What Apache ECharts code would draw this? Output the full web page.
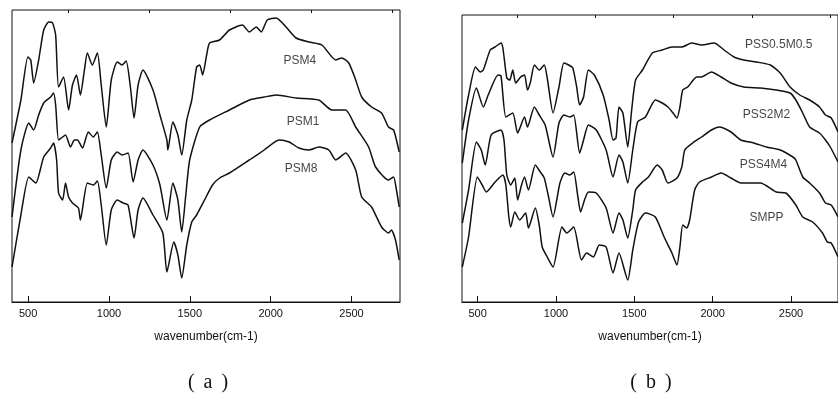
<!DOCTYPE html>
<html>
<head>
<meta charset="utf-8">
<script src="https://cdn.jsdelivr.net/npm/echarts@6/dist/echarts.min.js"></script>
<style>
  html, body { margin: 0; padding: 0; background: #fff; }
  #chart { width: 838px; height: 408px; }
</style>
</head>
<body>
<div id="chart"></div>
<script>
// wavenumber axis
const xMin = 400, xMax = 2800;
const majorTicks = [500, 1000, 1500, 2000, 2500];
const minorTicks = [750, 1250, 1750, 2250, 2750];
const axisTitle = 'wavenumber(cm-1)';

// panel (a) spectra, [wavenumber, intensity (arb.)]
const psm4 = [[400,159],[455,202],[498,245],[516,242],[534,219],[565,242],[596,272],[627,280],[651,279],[670,267],[688,215],[719,225],[750,192],[774,217],[799,227],[823,207],[848,232],[866,249],[897,237],[928,249],[952,217],[983,175],[1014,222],[1051,240],[1081,237],[1106,241],[1131,217],[1155,184],[1180,217],[1210,232],[1272,212],[1315,187],[1358,162],[1364,152],[1395,180],[1426,167],[1450,147],[1481,182],[1512,202],[1542,235],[1561,237],[1579,227],[1604,247],[1622,259],[1684,262],[1745,272],[1825,277],[1868,270],[1911,275],[1942,270],[1979,282],[2034,284],[2095,275],[2157,264],[2237,260],[2317,257],[2402,242],[2439,244],[2483,239],[2526,222],[2563,205],[2624,195],[2686,189],[2729,175],[2760,172],[2778,162],[2795,150]];
const psm1 = [[400,85],[455,152],[504,179],[534,172],[565,187],[596,199],[639,205],[657,209],[670,197],[688,162],[713,165],[731,167],[762,155],[786,162],[805,162],[836,154],[872,170],[903,165],[928,170],[952,147],[983,114],[1014,142],[1051,150],[1081,147],[1118,149],[1149,120],[1180,142],[1210,152],[1272,137],[1315,117],[1358,82],[1395,119],[1426,102],[1450,70],[1475,107],[1499,142],[1561,175],[1622,182],[1745,192],[1868,202],[1960,205],[2034,207],[2157,204],[2298,202],[2378,192],[2464,192],[2526,175],[2606,155],[2649,135],[2729,122],[2760,125],[2778,112],[2795,95]];
const psm8 = [[400,35],[455,87],[504,125],[547,119],[596,145],[639,154],[657,159],[676,142],[688,109],[713,102],[731,119],[750,105],[774,99],[811,94],[823,82],[866,119],[903,117],[928,121],[952,97],[983,57],[1014,92],[1051,102],[1088,99],[1118,97],[1155,64],[1180,92],[1210,104],[1272,87],[1333,69],[1358,30],[1401,60],[1426,47],[1450,24],[1481,57],[1512,80],[1542,87],[1591,102],[1640,117],[1684,124],[1745,129],[1868,142],[1960,152],[2052,162],[2114,160],[2175,154],[2237,152],[2298,155],[2360,152],[2402,142],[2464,149],[2526,132],[2563,105],[2624,95],[2686,75],[2729,69],[2747,72],[2772,62],[2795,42]];

// panel (b) spectra
const pss05 = [[402,172],[442,207],[486,235],[517,230],[536,232],[580,252],[611,255],[649,259],[661,254],[686,224],[705,222],[724,232],[743,219],[774,225],[799,227],[818,212],[837,220],[862,237],[893,232],[925,237],[944,224],[981,189],[1019,215],[1050,239],[1081,237],[1107,234],[1132,215],[1151,197],[1176,205],[1207,232],[1245,227],[1301,207],[1339,182],[1364,162],[1383,164],[1402,195],[1427,189],[1458,155],[1483,192],[1508,222],[1552,232],[1615,249],[1678,252],[1740,255],[1803,255],[1866,259],[1929,257],[2010,259],[2073,252],[2136,245],[2199,242],[2280,240],[2368,237],[2431,229],[2494,215],[2556,207],[2619,202],[2682,195],[2720,187],[2757,184],[2800,170]];
const pss2 = [[402,139],[442,182],[492,214],[536,195],[567,207],[630,227],[649,226],[680,185],[724,189],[755,169],[799,185],[818,175],[862,195],[893,187],[931,177],[981,145],[1019,179],[1050,187],[1088,185],[1113,187],[1151,149],[1176,162],[1207,177],[1257,172],[1320,152],[1364,125],[1402,147],[1427,140],[1458,119],[1490,152],[1521,180],[1571,185],[1634,202],[1678,199],[1715,195],[1747,189],[1772,184],[1791,195],[1809,212],[1841,215],[1897,225],[1929,225],[1992,230],[2054,225],[2117,219],[2199,215],[2305,214],[2406,212],[2494,209],[2531,202],[2575,189],[2619,175],[2682,169],[2720,162],[2751,155],[2800,140]];
const pss4 = [[402,79],[442,112],[492,160],[523,152],[548,137],[586,167],[649,172],[668,162],[686,127],[711,117],[737,124],[755,102],[780,117],[799,125],[824,112],[868,137],[900,130],[925,124],[950,107],[981,85],[1025,119],[1056,129],[1088,127],[1113,130],[1138,107],[1157,90],[1182,102],[1207,110],[1257,109],[1320,94],[1364,69],[1402,89],[1427,82],[1458,64],[1490,92],[1508,112],[1552,120],[1590,125],[1646,137],[1678,132],[1715,119],[1772,124],[1803,135],[1822,152],[1872,159],[1929,165],[1992,172],[2042,175],[2117,170],[2180,162],[2262,159],[2343,155],[2431,152],[2512,145],[2531,142],[2575,125],[2619,119],[2682,109],[2720,99],[2757,97],[2800,85]];
const smpp = [[402,35],[442,65],[498,125],[529,117],[555,110],[611,120],[661,127],[680,117],[699,85],[711,75],[737,90],[768,82],[806,89],[824,74],[868,94],[893,77],[912,55],[944,45],[981,35],[1038,75],[1069,69],[1113,75],[1163,42],[1195,49],[1239,45],[1276,57],[1320,55],[1364,29],[1402,49],[1458,22],[1490,52],[1527,80],[1571,89],[1634,85],[1690,65],[1740,49],[1772,37],[1791,55],[1809,77],[1834,74],[1853,82],[1885,112],[1916,120],[1992,125],[2054,129],[2117,124],[2180,119],[2305,119],[2406,110],[2468,109],[2531,97],[2575,85],[2638,80],[2701,69],[2732,60],[2757,59],[2800,45]];

// curve names placed at [wavenumber, intensity]
const labelsA = [[2180, 241, 'PSM4'], [2200, 180, 'PSM1'], [2188, 133, 'PSM8']];
const labelsB = [[2421, 257, 'PSS0.5M0.5'], [2343, 187, 'PSS2M2'], [2324, 137, 'PSS4M4'], [2343, 84, 'SMPP']];
const panelNames = ['a', 'b'];

const chart = echarts.init(document.getElementById('chart'));

const sans = '"Liberation Sans", Arial, sans-serif';
const serif = '"Liberation Serif", serif';

function majorAxis(grid) {
  return {
    type: 'value', gridIndex: grid, min: xMin, max: xMax,
    name: axisTitle, nameLocation: 'middle', nameGap: 29,
    nameTextStyle: { fontFamily: sans, fontSize: 12, color: '#111' },
    axisLine: { show: true, lineStyle: { color: '#111', width: 1 } },
    axisTick: { show: true, inside: true, length: 6, customValues: majorTicks, lineStyle: { color: '#111' } },
    axisLabel: {
      show: true, customValues: majorTicks, margin: 6,
      formatter: v => String(v),
      fontFamily: sans, fontSize: 11, color: '#111'
    },
    splitLine: { show: false }
  };
}
function minorAxis(grid) {
  return {
    type: 'value', gridIndex: grid, min: xMin, max: xMax,
    axisLine: { show: false },
    axisTick: { show: true, inside: true, length: 3, customValues: minorTicks, lineStyle: { color: '#111' } },
    axisLabel: { show: false },
    splitLine: { show: false }
  };
}
function yAxis(grid, max) {
  return {
    type: 'value', gridIndex: grid, min: 0, max: max,
    axisLine: { show: false }, axisTick: { show: false },
    axisLabel: { show: false }, splitLine: { show: false }
  };
}
function spectrum(data, grid) {
  return {
    type: 'line', data: data, xAxisIndex: grid * 2, yAxisIndex: grid,
    symbol: 'none', smooth: 0.2,
    lineStyle: { color: '#111', width: 1.5 }
  };
}
function names(data, grid) {
  return {
    type: 'scatter', data: data, xAxisIndex: grid * 2, yAxisIndex: grid,
    symbolSize: 1, itemStyle: { color: 'rgba(0,0,0,0)' },
    label: {
      show: true, position: 'inside', formatter: p => p.data[2],
      fontFamily: sans, fontSize: 12, color: '#111'
    }
  };
}
// full-width style brackets: wide gaps around the letter
function panelLetter(letter, x) {
  return {
    type: 'text', x: x, y: 383,
    style: {
      text: '{l|(}{t|' + letter + '}{r|)}',
      align: 'center', verticalAlign: 'middle',
      rich: {
        l: { fontFamily: serif, fontSize: 20, fill: '#111', padding: [0, 9, 0, 0] },
        t: { fontFamily: serif, fontSize: 20, fill: '#111' },
        r: { fontFamily: serif, fontSize: 20, fill: '#111', padding: [0, 0, 0, 9] }
      }
    }
  };
}

chart.setOption({
  animation: false,
  backgroundColor: '#fff',
  grid: [
    { left: 12, top: 10, width: 388, height: 292, show: true, borderColor: '#111', borderWidth: 1 },
    { left: 462, top: 15, width: 383, height: 287, show: true, borderColor: '#111', borderWidth: 1 }
  ],
  xAxis: [majorAxis(0), minorAxis(0), majorAxis(1), minorAxis(1)],
  yAxis: [yAxis(0, 292), yAxis(1, 287)],
  series: [
    spectrum(psm4, 0), spectrum(psm1, 0), spectrum(psm8, 0),
    spectrum(pss05, 1), spectrum(pss2, 1), spectrum(pss4, 1), spectrum(smpp, 1),
    names(labelsA, 0), names(labelsB, 1)
  ],
  graphic: [panelLetter(panelNames[0], 208), panelLetter(panelNames[1], 651)]
});
</script>
</body>
</html>
